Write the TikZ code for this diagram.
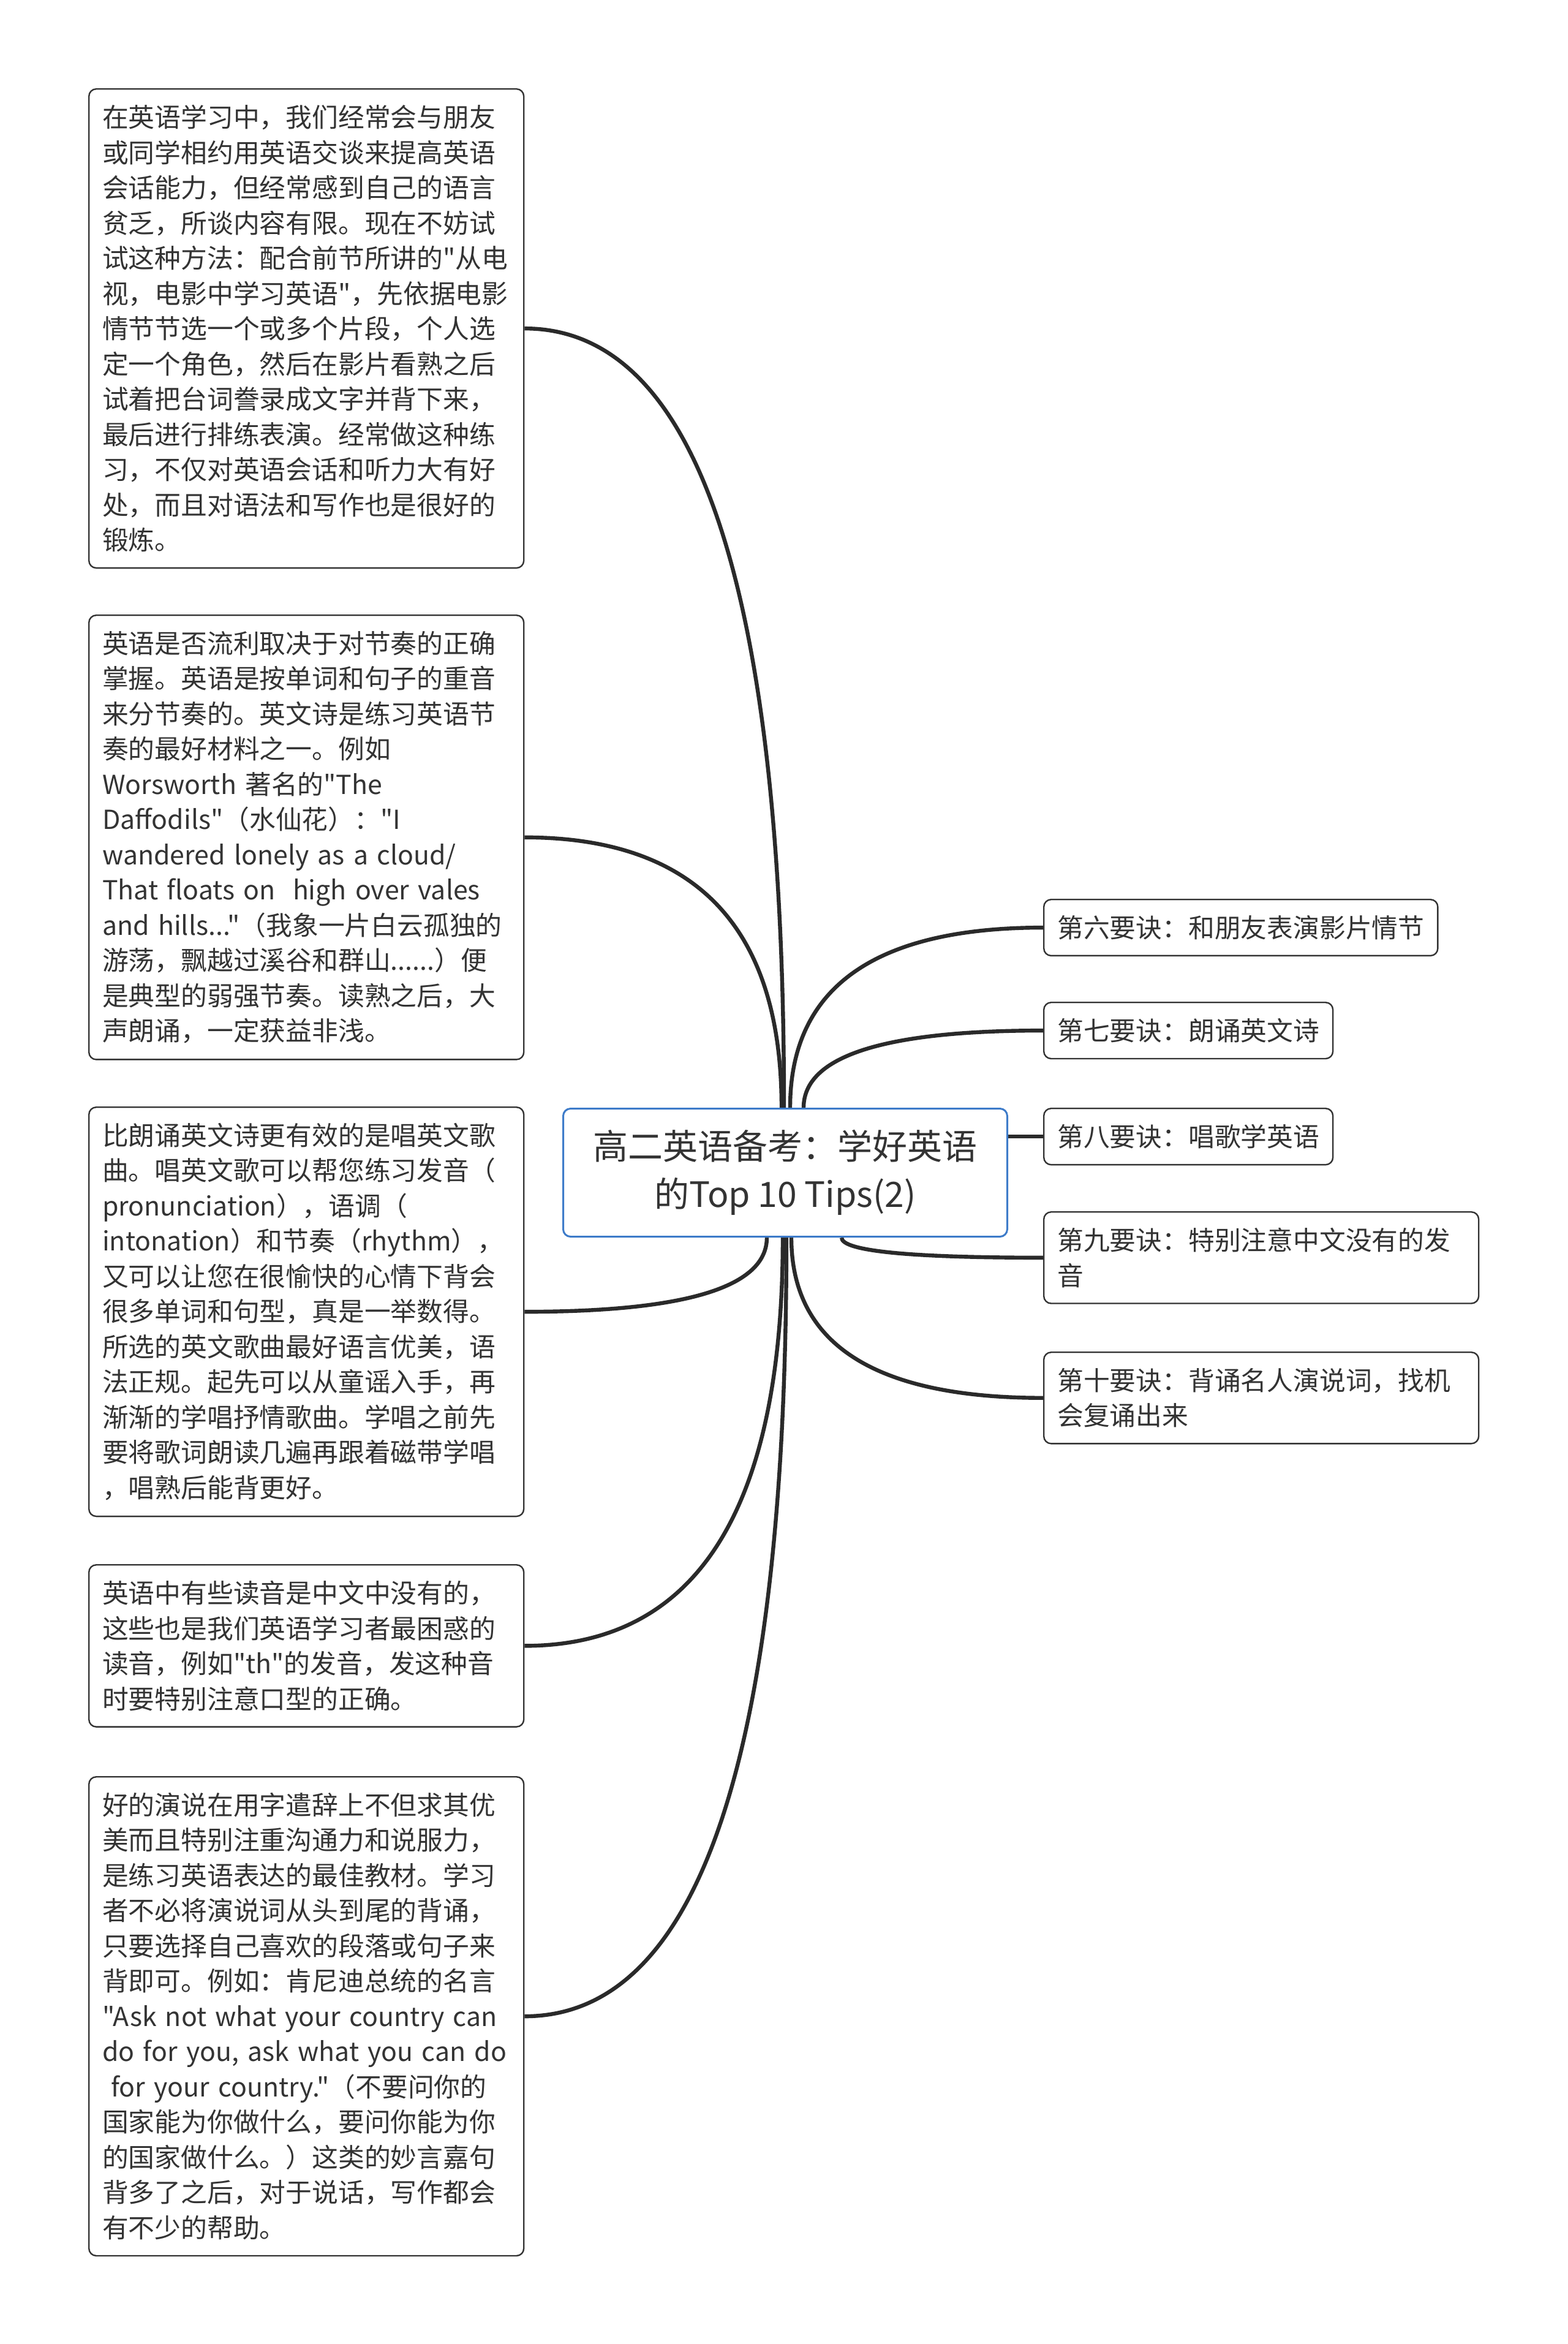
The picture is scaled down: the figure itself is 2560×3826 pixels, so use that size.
\documentclass[tikz,border=0pt]{standalone}
\usepackage{fontspec}
\setmainfont{Noto Sans CJK SC}[Ligatures=TeXOff]
\usetikzlibrary{calc,positioning,backgrounds}
\definecolor{myInk}{HTML}{333333}
\definecolor{myBlue}{HTML}{3D7BC9}
\definecolor{myLine}{HTML}{2A2A2A}
\tikzset{
myRoot/.style={
	rectangle, rounded corners=3pt, draw=myBlue, fill=white, line width=0.75pt,
	minimum width=181.25pt, minimum height=52.25pt, inner sep=0pt,
	align=center, text=myInk, font=\fontsize{14.25}{19.5}\selectfont
}
, myText/.style={
	rectangle, rounded corners=3pt, draw=myInk, fill=white, line width=0.6pt,
	text width=166.5pt, inner xsep=5.5pt, inner ysep=6.5pt,
	align=left, text=myInk, font=\fontsize{10.7}{14.375}\selectfont,
	anchor=north west
}
, myTip/.style={
	rectangle, rounded corners=3pt, draw=myInk, fill=white, line width=0.6pt,
	inner xsep=5.5pt, inner ysep=6.5pt,
	align=left, text=myInk, font=\fontsize{10.7}{14.375}\selectfont,
	anchor=north west
}
% link
, myBranch/.style={draw=myLine, line width=1.6pt}
}
% curved branch: start point, end anchor
\newcommand{\branch}[2]{%
	\draw[myBranch] (#1) .. controls ($(#1)!2/3!(#1|-#2)$) and ($(#2)!2/3!(#1|-#2)$) .. (#2);}
% keep a line unbroken
\newcommand{\oneline}[1]{\mbox{#1}}

\begin{document}
\begin{tikzpicture}[x=0.25pt, y=-0.25pt]
	\useasboundingbox (0,0) rectangle (2560,3826);
	% root
	\node[myRoot, anchor=north west] (root) at (918,1808)
		{高二英语备考：学好英语\\的Top 10 Tips(2)};

	% left texts
	\node[myText] (n1) at (144,144) {在英语学习中，我们经常会与朋友\\
		或同学相约用英语交谈来提高英语\\
		会话能力，但经常感到自己的语言\\
		贫乏，所谈内容有限。现在不妨试\\
		试这种方法：配合前节所讲的"从电\\
		视，电影中学习英语"，先依据电影\\
		情节节选一个或多个片段，个人选\\
		定一个角色，然后在影片看熟之后\\
		试着把台词誊录成文字并背下来，\\
		最后进行排练表演。经常做这种练\\
		习，不仅对英语会话和听力大有好\\
		处，而且对语法和写作也是很好的\\
		锻炼。};
	\node[myText] (n2) at (144,1003) {英语是否流利取决于对节奏的正确\\
		掌握。英语是按单词和句子的重音\\
		来分节奏的。英文诗是练习英语节\\
		奏的最好材料之一。例如\\
		\oneline{Worsworth 著名的"The}\\
		\oneline{Daffodils"（水仙花）："I}\\
		\oneline{wandered lonely as a cloud/}\\
		\oneline{That floats on \ high over vales}\\
		\oneline{and hills..."（我象一片白云孤独的}\\
		游荡，飘越过溪谷和群山......）便\\
		是典型的弱强节奏。读熟之后，大\\
		声朗诵，一定获益非浅。};
	\node[myText] (n3) at (144,1806) {比朗诵英文诗更有效的是唱英文歌\\
		曲。唱英文歌可以帮您练习发音（\\
		\oneline{pronunciation），语调（}\\
		\oneline{intonation）和节奏（rhythm），}\\
		又可以让您在很愉快的心情下背会\\
		很多单词和句型，真是一举数得。\\
		所选的英文歌曲最好语言优美，语\\
		法正规。起先可以从童谣入手，再\\
		渐渐的学唱抒情歌曲。学唱之前先\\
		要将歌词朗读几遍再跟着磁带学唱\\
		，唱熟后能背更好。};
	\node[myText] (n4) at (144,2553) {英语中有些读音是中文中没有的，\\
		这些也是我们英语学习者最困惑的\\
		\oneline{读音，例如"th"的发音，发这种音}\\
		时要特别注意口型的正确。};
	\node[myText] (n5) at (144,2899) {好的演说在用字遣辞上不但求其优\\
		美而且特别注重沟通力和说服力，\\
		是练习英语表达的最佳教材。学习\\
		者不必将演说词从头到尾的背诵，\\
		只要选择自己喜欢的段落或句子来\\
		背即可。例如：肯尼迪总统的名言\\
		\oneline{"Ask not what your country can}\\
		\oneline{do for you, ask what you can do}\\
		\oneline{\ for your country."（不要问你的}\\
		国家能为你做什么，要问你能为你\\
		的国家做什么。）这类的妙言嘉句\\
		背多了之后，对于说话，写作都会\\
		有不少的帮助。};

	% right tips
	\node[myTip] (t6) at (1703,1467) {第六要诀：和朋友表演影片情节};
	\node[myTip] (t7) at (1703,1635) {第七要诀：朗诵英文诗};
	\node[myTip] (t8) at (1703,1808) {第八要诀：唱歌学英语};
	\node[myText] (t9) at (1703,1977) {第九要诀：特别注意中文没有的发\\音};
	\node[myText] (t10) at (1703,2206) {第十要诀：背诵名人演说词，找机\\会复诵出来};

	% links
	\coordinate (s1) at ($(root.north)+(-2,0)$);
	\coordinate (s2) at ($(root.north)+(-6,0)$);
	\coordinate (s6) at ($(root.north)+(8,0)$);
	\coordinate (s7) at ($(root.north)+(30,0)$);
	\coordinate (s3) at ($(root.south)+(-30,0)$);
	\coordinate (s4) at ($(root.south)+(-4,0)$);
	\coordinate (s5) at ($(root.south)+(2,0)$);
	\coordinate (s9) at ($(root.south)+(92,0)$);
	\coordinate (s10) at ($(root.south)+(10,0)$);
	\begin{scope}[on background layer]
	\fill[white] (0,0) rectangle (2560,3826);
	\branch{s1}{n1.east}
	\branch{s2}{n2.east}
	\branch{s3}{n3.east}
	\branch{s4}{n4.east}
	\branch{s5}{n5.east}
	\branch{s6}{t6.west}
	\branch{s7}{t7.west}
	\draw[myBranch] (root.east |- t8.west) -- (t8.west);
	\branch{s9}{t9.west}
	\branch{s10}{t10.west}
	\end{scope}
\end{tikzpicture}
\end{document}
